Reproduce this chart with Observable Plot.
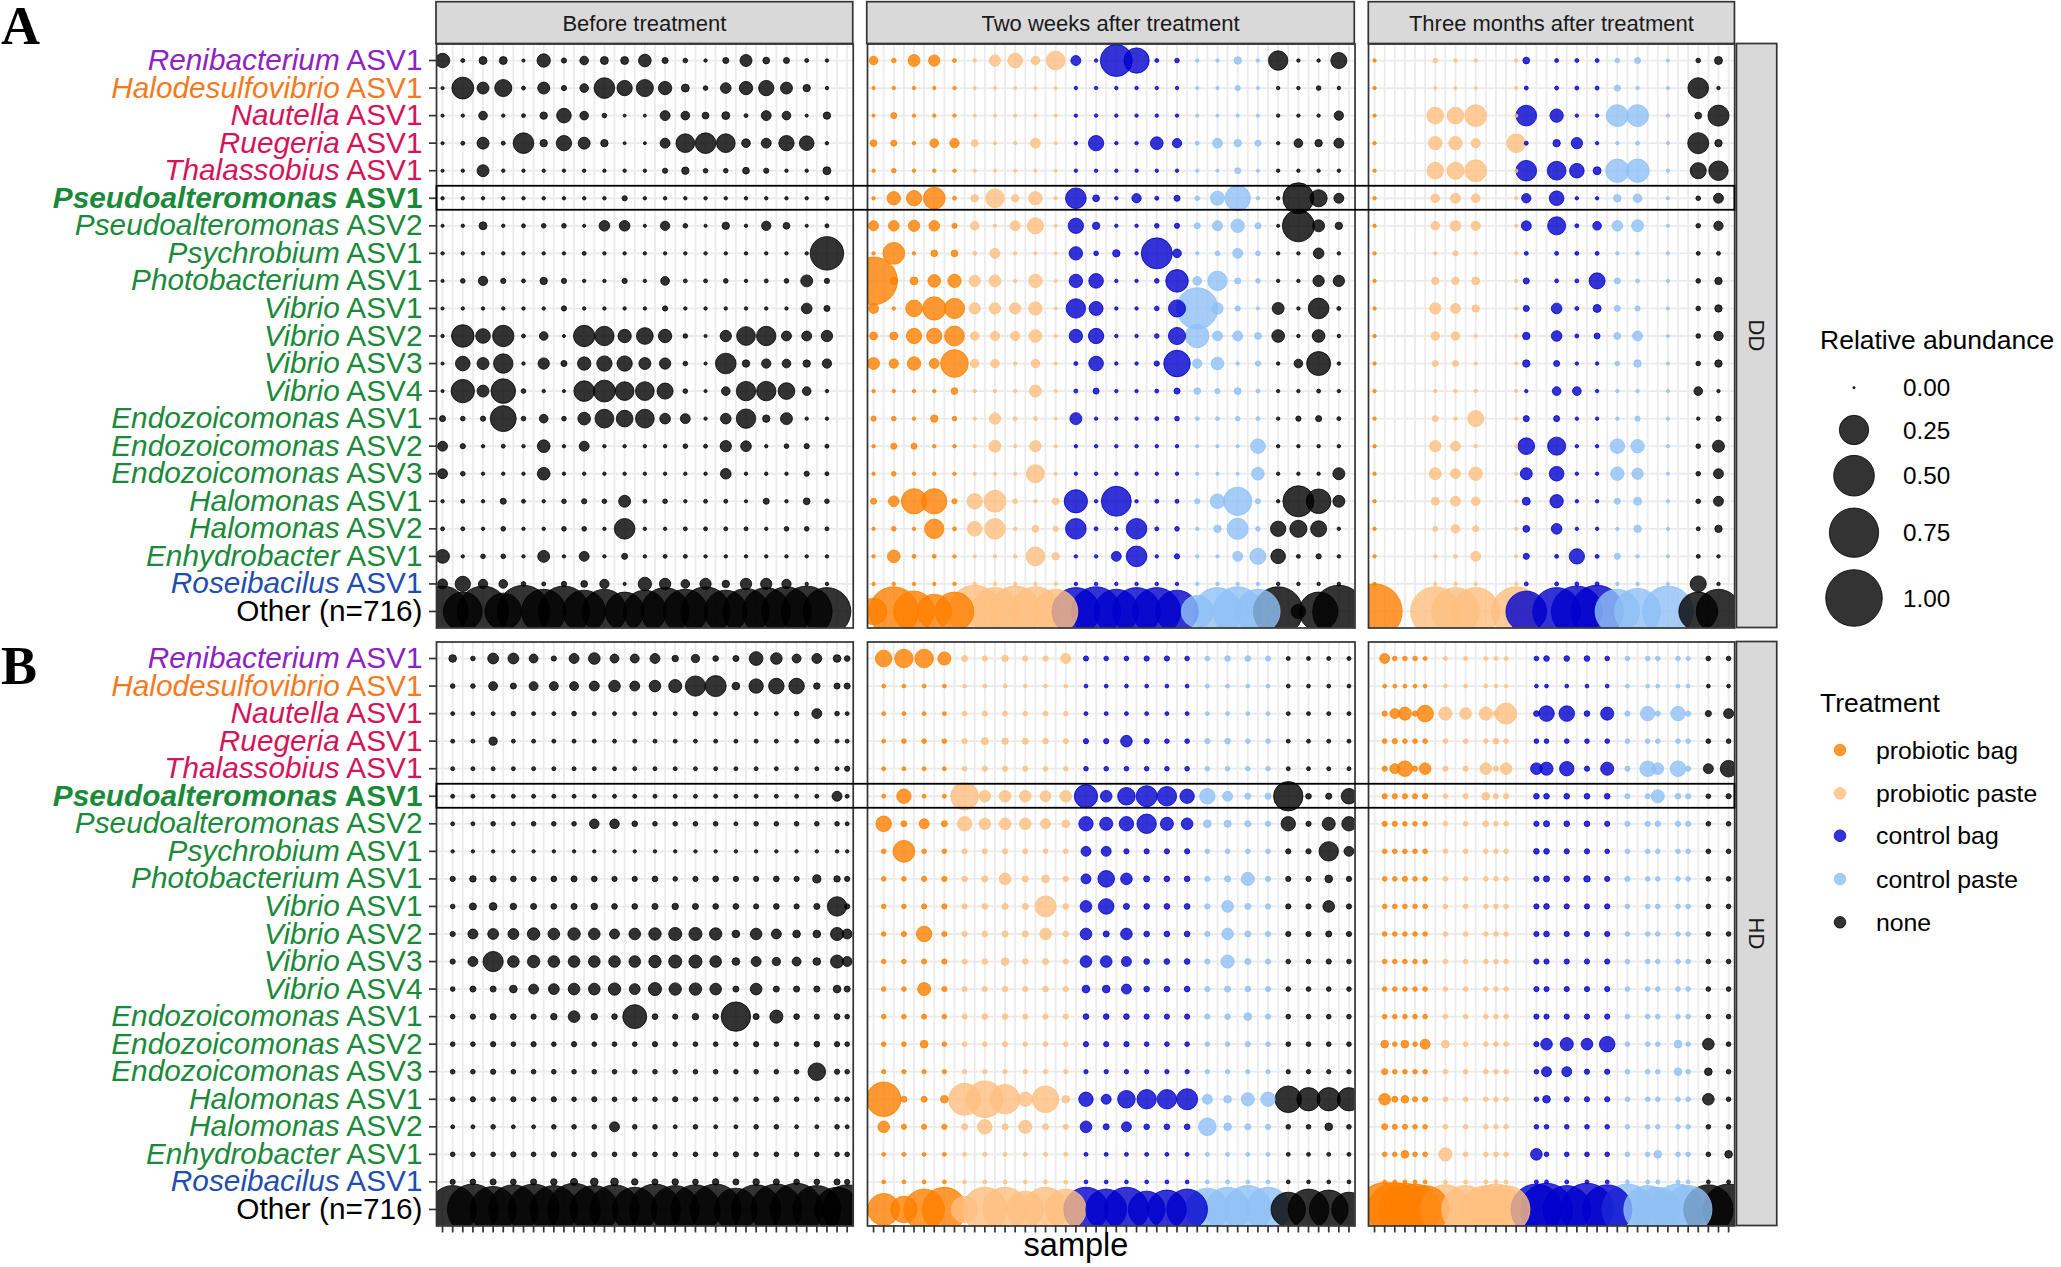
<!DOCTYPE html>
<html><head><meta charset="utf-8">
<script src="https://cdn.jsdelivr.net/npm/d3@7"></script>
<script src="https://cdn.jsdelivr.net/npm/@observablehq/plot@0.6"></script>
<style>
body{margin:0;background:#fff;}
#fig{position:relative;width:2061px;height:1267px;overflow:hidden;background:#fff;font-family:"Liberation Sans",Arial,sans-serif;}
#fig svg{position:absolute;top:0;}
</style></head><body><div id="fig"></div>
<script>
// ---------------- DATA ----------------
const taxa = ["Renibacterium ASV1","Halodesulfovibrio ASV1","Nautella ASV1","Ruegeria ASV1","Thalassobius ASV1",
"Pseudoalteromonas ASV1","Pseudoalteromonas ASV2","Psychrobium ASV1","Photobacterium ASV1","Vibrio ASV1",
"Vibrio ASV2","Vibrio ASV3","Vibrio ASV4","Endozoicomonas ASV1","Endozoicomonas ASV2","Endozoicomonas ASV3",
"Halomonas ASV1","Halomonas ASV2","Enhydrobacter ASV1","Roseibacilus ASV1","Other (n=716)"];
const taxonColors = ["#8E22C2","#F47A1F","#D4145A","#D4145A","#D4145A","#1A8A3A","#1A8A3A","#1A8A3A","#1A8A3A","#1A8A3A",
"#1A8A3A","#1A8A3A","#1A8A3A","#1A8A3A","#1A8A3A","#1A8A3A","#1A8A3A","#1A8A3A","#1A8A3A","#1F4DB0","#000000"];
const highlightTaxon = "Pseudoalteromonas ASV1";
const sites = ["DD","HD"];
const periods = ["Before treatment","Two weeks after treatment","Three months after treatment"];
const samplesPerPeriod = [41, 48, 36];
const treatOrder = ["probiotic bag","probiotic paste","control bag","control paste","none"];
const treatColors = ["#FF8000","#FFBF80","#0000CD","#8EC0F5","#000000"];
const treatCode = {PB:"probiotic bag", PP:"probiotic paste", CB:"control bag", CP:"control paste", N:"none"};
const sizeBreaks = [0, 0.25, 0.5, 0.75, 1];

// sample slots (x categories within each period) and treatments
const ddBeforeSlots = [0,2,4,6,8,10,12,14,16,18,20,22,24,26,28,30,32,34,36,38];
const hdBeforeSlots = [1,3,5,7,9,11,13,15,17,19,21,23,25,27,29,31,33,35,37,39,40];
const ddTwoSlots = [0,2,4,6,8,10,12,14,16,18,20,22,24,26,28,30,32,34,36,38,40,42,44,46];
const hdTwoSlots = [1,3,5,7,9,11,13,15,17,19,21,23,25,27,29,31,33,35,37,39,41,43,45,47];
const ddThreeSlots = [0,6,8,10,14,15,18,20,22,24,26,29,32,34];
const hdThreeSlots = [1,2,3,4,5,7,9,11,12,13,16,17,19,21,23,25,27,28,30,31,33,35];

const ddBeforeTreat = ["N","N","N","N","N","N","N","N","N","N","N","N","N","N","N","N","N","N","N","N"];
const hdBeforeTreat = ["N","N","N","N","N","N","N","N","N","N","N","N","N","N","N","N","N","N","N","N","N"];
const ddTwoTreat = ["PB","PB","PB","PB","PB","PP","PP","PP","PP","PP","CB","CB","CB","CB","CB","CB","CP","CP","CP","CP","N","N","N","N"];
const hdTwoTreat = ["PB","PB","PB","PB","PP","PP","PP","PP","PP","PP","CB","CB","CB","CB","CB","CB","CP","CP","CP","CP","N","N","N","N"];
const ddThreeTreat = ["PB","PP","PP","PP","PP","CB","CB","CB","CB","CP","CP","CP","N","N"];
const hdThreeTreat = ["PB","PB","PB","PB","PB","PP","PP","PP","PP","PP","CB","CB","CB","CB","CB","CP","CP","CP","CP","CP","N","N"];

// relative abundance, one row per taxon (same order as taxa)
const ddBefore = [
[0.05,0.001,0.011,0.011,0.0003,0.042,0.003,0.014,0.011,0.011,0.037,0.005,0.002,0.0005,0.005,0.032,0.007,0.005,0.001,0.0005],
[0.0003,0.13,0.032,0.075,0.001,0.032,0.003,0.014,0.115,0.058,0.075,0.042,0.011,0.002,0.024,0.042,0.058,0.032,0.009,0.0005],
[0.0003,0.0005,0.014,0.0005,0.001,0.009,0.052,0.014,0.002,0.0002,0.0002,0.02,0.014,0.007,0.011,0.001,0.02,0.014,0.0003,0.009],
[0.0003,0.001,0.032,0.001,0.115,0.009,0.058,0.032,0.009,0.0002,0.0002,0.02,0.092,0.115,0.092,0.014,0.02,0.058,0.052,0.0005],
[0.0003,0.0005,0.032,0.0005,0.0005,0.0005,0.0005,0.0005,0.0005,0.0005,0.0005,0.003,0.009,0.002,0.002,0.007,0.003,0.0005,0.0005,0.011],
[0.0005,0.0005,0.0005,0.0005,0.0005,0.0005,0.0005,0.0005,0.0005,0.003,0.0005,0.0005,0.0005,0.0005,0.0005,0.0005,0.0005,0.0005,0.0005,0.0008],
[0.0003,0.0005,0.011,0.0005,0.001,0.002,0.002,0.0003,0.024,0.024,0.0003,0.017,0.002,0.0003,0.009,0.0005,0.017,0.007,0.0003,0.001],
[0.0005,0.0005,0.0005,0.0005,0.0005,0.0005,0.0005,0.001,0.0005,0.0005,0.0005,0.0005,0.0005,0.0005,0.0005,0.0005,0.0005,0.0005,0.0005,0.33],
[0.0003,0.002,0.017,0.003,0.001,0.009,0.003,0.0005,0.0005,0.003,0.0005,0.014,0.001,0.001,0.002,0.0005,0.001,0.002,0.032,0.003],
[0.0003,0.0005,0.0005,0.0005,0.0005,0.0005,0.003,0.0005,0.0005,0.0005,0.0005,0.003,0.0005,0.0005,0.0005,0.0005,0.0005,0.0005,0.024,0.005],
[0.0005,0.14,0.052,0.123,0.001,0.014,0.0003,0.123,0.1,0.042,0.071,0.042,0.002,0.0003,0.028,0.092,0.1,0.02,0.02,0.028],
[0.0003,0.052,0.032,0.1,0.0005,0.028,0.005,0.042,0.058,0.058,0.032,0.028,0.002,0.0003,0.115,0.009,0.017,0.014,0.009,0.017],
[0.0003,0.151,0.032,0.17,0.002,0.0005,0.0003,0.115,0.13,0.092,0.092,0.065,0.002,0.0003,0.014,0.1,0.1,0.071,0.014,0.0005],
[0.005,0.002,0.003,0.19,0.002,0.014,0.002,0.037,0.092,0.071,0.092,0.024,0.02,0.0005,0.024,0.1,0.009,0.032,0.0005,0.0005],
[0.02,0.003,0.0005,0.001,0.0005,0.037,0.0005,0.02,0.0005,0.0005,0.0005,0.0005,0.002,0.001,0.028,0.024,0.0005,0.002,0.003,0.001],
[0.02,0.002,0.0005,0.0005,0.0005,0.037,0.0005,0.0005,0.0005,0.0005,0.0005,0.0005,0.0005,0.0005,0.024,0.0005,0.0005,0.0005,0.003,0.001],
[0.0005,0.001,0.0005,0.005,0.001,0.0005,0.002,0.003,0.002,0.032,0.001,0.002,0.0005,0.001,0.001,0.0003,0.005,0.0005,0.007,0.002],
[0.001,0.001,0.0005,0.002,0.0005,0.0005,0.002,0.002,0.0005,0.115,0.0005,0.0005,0.001,0.001,0.001,0.001,0.0005,0.002,0.002,0.001],
[0.045,0.0005,0.002,0.002,0.0005,0.032,0.0005,0.02,0.0005,0.005,0.0005,0.001,0.001,0.0005,0.0005,0.0005,0.0005,0.0005,0.0005,0.0005],
[0.02,0.058,0.017,0.014,0.002,0.001,0.003,0.007,0.017,0.0003,0.042,0.028,0.014,0.028,0.009,0.028,0.028,0.017,0.0005,0.0005],
[0.8,0.45,0.8,0.4,0.85,0.6,0.8,0.55,0.6,0.45,0.55,0.7,0.6,0.75,0.55,0.65,0.7,0.75,0.8,0.7]
];
const ddTwo = [
[0.014,0.002,0.032,0.028,0.001,0.0005,0.028,0.052,0.014,0.092,0.02,0.0005,0.30,0.18,0.001,0.002,0.0005,0.0005,0.009,0.0005,0.1,0.0005,0.0005,0.065],
[0.0005,0.0005,0.0005,0.0005,0.0005,0.0003,0.0003,0.0003,0.0003,0.0003,0.0005,0.0005,0.0005,0.0005,0.0005,0.0005,0.0003,0.0003,0.003,0.0003,0.0005,0.0005,0.002,0.0005],
[0.0003,0.005,0.0005,0.0005,0.0005,0.0003,0.0003,0.0003,0.0003,0.0003,0.0005,0.0005,0.0005,0.0005,0.0005,0.0005,0.0003,0.0003,0.0003,0.0003,0.0005,0.0005,0.0005,0.017],
[0.007,0.005,0.0005,0.014,0.017,0.007,0.0003,0.0003,0.02,0.0003,0.0005,0.058,0.0005,0.0005,0.037,0.017,0.001,0.02,0.009,0.005,0.0005,0.014,0.009,0.02],
[0.0005,0.002,0.0005,0.0005,0.0005,0.0003,0.0003,0.0003,0.0003,0.0003,0.0005,0.0005,0.0005,0.0005,0.0005,0.0005,0.0003,0.0003,0.005,0.0003,0.0005,0.0005,0.0005,0.0005],
[0.0005,0.042,0.058,0.13,0.001,0.009,0.092,0.009,0.042,0.0005,0.115,0.007,0.0005,0.017,0.001,0.005,0.002,0.047,0.18,0.0005,0.0005,0.28,0.075,0.02],
[0.02,0.024,0.028,0.024,0.003,0.014,0.0005,0.02,0.065,0.0003,0.058,0.009,0.0005,0.0005,0.002,0.003,0.005,0.02,0.042,0.005,0.0003,0.30,0.032,0.009],
[0.0005,0.13,0.0005,0.007,0.007,0.001,0.02,0.0005,0.0003,0.0003,0.042,0.002,0.009,0.0005,0.28,0.014,0.0005,0.002,0.02,0.002,0.0005,0.0005,0.024,0.0005],
[0.7,0.009,0.011,0.037,0.042,0.028,0.032,0.0005,0.042,0.0003,0.042,0.052,0.0005,0.0005,0.002,0.14,0.014,0.1,0.005,0.002,0.0005,0.0005,0.028,0.028],
[0.02,0.0005,0.071,0.15,0.11,0.028,0.028,0.028,0.042,0.0003,0.1,0.047,0.0005,0.0005,0.002,0.075,0.52,0.028,0.003,0.0003,0.032,0.0005,0.115,0.001],
[0.011,0.011,0.058,0.058,0.105,0.014,0.017,0.017,0.037,0.0003,0.042,0.058,0.0005,0.0005,0.002,0.075,0.15,0.02,0.02,0.007,0.037,0.0005,0.037,0.0005],
[0.032,0.017,0.042,0.02,0.22,0.014,0.014,0.0005,0.014,0.0003,0.001,0.052,0.0005,0.0005,0.003,0.2,0.017,0.037,0.0005,0.003,0.0005,0.014,0.16,0.0005],
[0.0005,0.0005,0.0005,0.0005,0.007,0.0005,0.0005,0.0005,0.032,0.0003,0.001,0.005,0.0005,0.0005,0.001,0.005,0.007,0.003,0.007,0.001,0.0005,0.0005,0.001,0.0005],
[0.003,0.002,0.0005,0.009,0.002,0.0005,0.028,0.001,0.001,0.0003,0.032,0.0005,0.0005,0.0005,0.001,0.002,0.001,0.001,0.002,0.001,0.0005,0.003,0.005,0.001],
[0.0005,0.005,0.005,0.0005,0.0005,0.0003,0.032,0.0003,0.028,0.0003,0.0005,0.0005,0.0005,0.0005,0.0005,0.0005,0.0003,0.0003,0.0003,0.052,0.0005,0.0005,0.0005,0.0005],
[0.0005,0.002,0.0005,0.0005,0.0005,0.0003,0.0003,0.0003,0.085,0.0003,0.0005,0.0005,0.0005,0.0005,0.0005,0.0005,0.0003,0.0003,0.0003,0.037,0.0005,0.0005,0.0005,0.032],
[0.005,0.024,0.18,0.18,0.003,0.058,0.13,0.002,0.0005,0.007,0.15,0.0005,0.26,0.0005,0.001,0.001,0.003,0.052,0.23,0.003,0.0005,0.28,0.17,0.032],
[0.0005,0.002,0.0005,0.1,0.001,0.052,0.115,0.0005,0.007,0.003,0.115,0.001,0.0005,0.115,0.001,0.002,0.0005,0.009,0.12,0.002,0.058,0.075,0.065,0.0005],
[0.0005,0.037,0.001,0.001,0.0005,0.0003,0.0005,0.0005,0.092,0.009,0.0005,0.0005,0.02,0.115,0.0005,0.003,0.0005,0.0005,0.02,0.065,0.052,0.001,0.003,0.0005],
[0.0005,0.0005,0.0005,0.0005,0.0005,0.0005,0.0005,0.0005,0.0005,0.0005,0.0005,0.0005,0.0005,0.0005,0.0005,0.0005,0.0005,0.0005,0.0005,0.0005,0.0005,0.0005,0.0005,0.0005],
[0.2,0.75,0.5,0.35,0.45,0.85,0.7,0.8,0.75,0.6,0.7,0.75,0.6,0.7,0.7,0.55,0.3,0.7,0.75,0.6,0.75,0.05,0.45,0.85]
];
const ddThree = [
[0.0005,0.002,0.0005,0.0005,0.0005,0.007,0.001,0.001,0.001,0.002,0.005,0.0003,0.002,0.011],
[0.0005,0.0003,0.0003,0.0003,0.0005,0.001,0.001,0.001,0.001,0.005,0.0005,0.0003,0.115,0.0005],
[0.0005,0.071,0.071,0.13,0.0005,0.115,0.042,0.0005,0.0005,0.13,0.13,0.0005,0.007,0.12],
[0.0005,0.042,0.042,0.017,0.092,0.001,0.009,0.028,0.0005,0.0005,0.001,0.0003,0.12,0.009],
[0.0005,0.071,0.075,0.13,0.0005,0.115,0.092,0.052,0.011,0.15,0.15,0.0005,0.065,0.1],
[0.0005,0.014,0.02,0.014,0.0003,0.017,0.052,0.0005,0.0005,0.009,0.014,0.0003,0.002,0.02],
[0.0005,0.014,0.024,0.017,0.0003,0.02,0.085,0.001,0.014,0.024,0.032,0.0003,0.002,0.017],
[0.0005,0.0005,0.003,0.0005,0.0003,0.001,0.001,0.001,0.001,0.0005,0.0005,0.0003,0.001,0.001],
[0.0005,0.009,0.009,0.011,0.0003,0.005,0.001,0.001,0.065,0.005,0.001,0.0003,0.002,0.009],
[0.0005,0.028,0.02,0.009,0.0003,0.005,0.024,0.001,0.011,0.005,0.003,0.0003,0.002,0.009],
[0.0005,0.014,0.014,0.0005,0.0003,0.009,0.024,0.001,0.005,0.007,0.02,0.0003,0.002,0.017],
[0.0005,0.005,0.005,0.0005,0.0003,0.009,0.005,0.0005,0.0005,0.002,0.009,0.0003,0.002,0.009],
[0.0005,0.0005,0.0005,0.0005,0.0003,0.0005,0.014,0.014,0.0005,0.0005,0.0005,0.0003,0.014,0.0005],
[0.0005,0.005,0.0005,0.065,0.0003,0.005,0.005,0.0005,0.0005,0.0005,0.003,0.0003,0.0005,0.003],
[0.0005,0.028,0.02,0.0005,0.0003,0.071,0.085,0.0005,0.0005,0.052,0.042,0.0003,0.002,0.032],
[0.0005,0.032,0.02,0.042,0.0003,0.032,0.052,0.0005,0.0005,0.042,0.028,0.0003,0.002,0.02],
[0.0005,0.011,0.02,0.014,0.0003,0.011,0.042,0.0005,0.0005,0.005,0.011,0.0003,0.002,0.02],
[0.0005,0.003,0.014,0.005,0.0003,0.007,0.024,0.0005,0.0005,0.0005,0.009,0.0003,0.001,0.009],
[0.0005,0.0005,0.001,0.02,0.0003,0.005,0.001,0.058,0.001,0.005,0.0005,0.0003,0.001,0.0005],
[0.0005,0.0005,0.0005,0.0005,0.0003,0.001,0.001,0.001,0.001,0.0005,0.0005,0.0003,0.065,0.0005],
[0.95,0.75,0.7,0.7,0.75,0.5,0.7,0.8,0.85,0.6,0.65,0.8,0.45,0.6]
];
const hdBefore = [
[0.01,0.002,0.025,0.025,0.015,0.003,0.02,0.03,0.015,0.015,0.02,0.006,0.012,0.004,0.005,0.045,0.03,0.015,0.02,0.01,0.004],
[0.002,0.002,0.015,0.005,0.015,0.015,0.015,0.02,0.03,0.02,0.03,0.04,0.11,0.12,0.01,0.05,0.06,0.06,0.006,0.005,0.005],
[0.001,0.001,0.001,0.002,0.001,0.001,0.002,0.001,0.001,0.001,0.001,0.001,0.002,0.001,0.001,0.001,0.001,0.002,0.02,0.002,0.001],
[0.001,0.001,0.012,0.001,0.001,0.001,0.001,0.001,0.001,0.001,0.001,0.001,0.001,0.001,0.001,0.001,0.001,0.001,0.002,0.001,0.001],
[0.001,0.001,0.001,0.001,0.001,0.001,0.001,0.001,0.001,0.001,0.001,0.001,0.001,0.001,0.001,0.001,0.001,0.001,0.001,0.001,0.003],
[0.001,0.001,0.001,0.001,0.001,0.001,0.001,0.001,0.001,0.001,0.001,0.001,0.001,0.001,0.001,0.001,0.001,0.001,0.001,0.02,0.001],
[0.001,0.001,0.002,0.001,0.002,0.002,0.002,0.018,0.018,0.004,0.002,0.002,0.002,0.002,0.001,0.002,0.002,0.002,0.002,0.002,0.001],
[0.0005,0.0005,0.0005,0.0005,0.0005,0.0005,0.0005,0.0005,0.0005,0.0005,0.0005,0.0005,0.0005,0.0005,0.0005,0.0005,0.0005,0.0005,0.0005,0.0005,0.0005],
[0.003,0.006,0.005,0.004,0.003,0.004,0.005,0.004,0.003,0.003,0.004,0.002,0.003,0.004,0.003,0.003,0.004,0.003,0.012,0.006,0.003],
[0.002,0.008,0.01,0.006,0.005,0.004,0.005,0.006,0.004,0.004,0.005,0.006,0.005,0.004,0.004,0.003,0.004,0.003,0.005,0.1,0.003],
[0.003,0.02,0.025,0.025,0.035,0.03,0.035,0.03,0.02,0.03,0.035,0.04,0.04,0.035,0.01,0.03,0.02,0.01,0.01,0.04,0.02],
[0.003,0.02,0.11,0.03,0.035,0.03,0.03,0.03,0.03,0.03,0.035,0.04,0.04,0.03,0.01,0.02,0.012,0.015,0.01,0.04,0.02],
[0.002,0.005,0.005,0.01,0.02,0.025,0.03,0.03,0.035,0.025,0.04,0.035,0.035,0.03,0.005,0.03,0.005,0.005,0.005,0.01,0.005],
[0.002,0.003,0.005,0.004,0.003,0.006,0.03,0.006,0.004,0.16,0.004,0.003,0.006,0.004,0.25,0.005,0.04,0.004,0.003,0.004,0.002],
[0.002,0.002,0.003,0.002,0.003,0.002,0.003,0.002,0.002,0.002,0.003,0.002,0.002,0.002,0.002,0.003,0.002,0.002,0.004,0.003,0.002],
[0.002,0.002,0.003,0.002,0.002,0.002,0.002,0.002,0.002,0.002,0.002,0.002,0.002,0.002,0.002,0.002,0.002,0.002,0.08,0.003,0.002],
[0.002,0.003,0.002,0.003,0.002,0.003,0.002,0.003,0.002,0.002,0.002,0.003,0.002,0.002,0.002,0.002,0.003,0.002,0.002,0.002,0.002],
[0.001,0.001,0.002,0.001,0.001,0.002,0.002,0.002,0.02,0.002,0.002,0.001,0.002,0.001,0.001,0.002,0.002,0.001,0.001,0.002,0.001],
[0.002,0.002,0.002,0.003,0.002,0.003,0.002,0.003,0.002,0.002,0.002,0.002,0.002,0.002,0.003,0.002,0.002,0.002,0.002,0.002,0.002],
[0.003,0.004,0.005,0.004,0.005,0.006,0.008,0.01,0.01,0.006,0.005,0.006,0.004,0.006,0.005,0.006,0.005,0.004,0.004,0.005,0.003],
[0.7,0.8,0.65,0.75,0.8,0.7,0.85,0.7,0.75,0.6,0.8,0.7,0.75,0.8,0.55,0.75,0.8,0.85,0.7,0.6,0.75]
];
const hdTwo = [
[0.07,0.09,0.09,0.04,0.005,0.003,0.006,0.003,0.003,0.02,0.003,0.002,0.002,0.003,0.003,0.002,0.002,0.004,0.004,0.003,0.001,0.001,0.001,0.001],
[0.0008,0.0008,0.0008,0.0008,0.0008,0.0008,0.0008,0.0008,0.0008,0.0008,0.0008,0.0008,0.0008,0.0008,0.0008,0.0008,0.0008,0.0008,0.0008,0.0008,0.0008,0.0008,0.0008,0.0008],
[0.001,0.001,0.001,0.001,0.002,0.003,0.002,0.002,0.002,0.002,0.001,0.001,0.001,0.001,0.001,0.001,0.001,0.001,0.001,0.001,0.001,0.001,0.001,0.001],
[0.001,0.002,0.002,0.002,0.003,0.008,0.006,0.005,0.004,0.003,0.003,0.003,0.03,0.003,0.002,0.002,0.003,0.004,0.002,0.002,0.001,0.001,0.001,0.001],
[0.001,0.001,0.001,0.001,0.002,0.003,0.003,0.003,0.002,0.002,0.002,0.002,0.002,0.002,0.002,0.002,0.002,0.002,0.002,0.002,0.001,0.001,0.001,0.001],
[0.001,0.05,0.001,0.001,0.22,0.03,0.03,0.03,0.025,0.03,0.15,0.03,0.08,0.12,0.1,0.05,0.06,0.02,0.005,0.005,0.25,0.004,0.005,0.06],
[0.06,0.005,0.02,0.005,0.05,0.03,0.03,0.03,0.02,0.01,0.05,0.04,0.05,0.1,0.04,0.03,0.01,0.008,0.005,0.003,0.05,0.003,0.04,0.05],
[0.002,0.13,0.002,0.002,0.003,0.003,0.003,0.003,0.002,0.002,0.02,0.02,0.003,0.003,0.003,0.003,0.002,0.002,0.002,0.002,0.003,0.003,0.1,0.02],
[0.002,0.002,0.003,0.003,0.004,0.005,0.03,0.005,0.01,0.003,0.02,0.07,0.03,0.005,0.004,0.004,0.003,0.005,0.04,0.003,0.003,0.003,0.01,0.003],
[0.002,0.002,0.003,0.003,0.003,0.004,0.005,0.005,0.12,0.004,0.03,0.06,0.005,0.004,0.004,0.004,0.003,0.03,0.005,0.003,0.003,0.003,0.03,0.003],
[0.002,0.003,0.06,0.003,0.003,0.004,0.005,0.005,0.03,0.004,0.03,0.005,0.03,0.004,0.004,0.004,0.003,0.03,0.005,0.003,0.003,0.003,0.005,0.003],
[0.002,0.002,0.003,0.003,0.003,0.004,0.01,0.004,0.005,0.003,0.03,0.03,0.02,0.004,0.004,0.004,0.003,0.04,0.005,0.003,0.002,0.002,0.003,0.002],
[0.002,0.002,0.04,0.003,0.003,0.003,0.004,0.003,0.004,0.003,0.01,0.01,0.02,0.004,0.004,0.004,0.003,0.005,0.004,0.003,0.002,0.002,0.002,0.002],
[0.002,0.002,0.003,0.002,0.003,0.004,0.004,0.003,0.003,0.003,0.004,0.004,0.004,0.003,0.003,0.003,0.003,0.004,0.01,0.003,0.002,0.002,0.002,0.002],
[0.002,0.002,0.01,0.002,0.002,0.002,0.003,0.002,0.002,0.002,0.003,0.003,0.003,0.002,0.002,0.002,0.002,0.002,0.003,0.002,0.002,0.002,0.002,0.002],
[0.0015,0.0015,0.0015,0.0015,0.0015,0.0015,0.0015,0.0015,0.0015,0.0015,0.0015,0.0015,0.0015,0.0015,0.0015,0.0015,0.0015,0.0015,0.0015,0.0015,0.0015,0.0015,0.0015,0.0015],
[0.35,0.005,0.005,0.01,0.3,0.4,0.25,0.05,0.2,0.01,0.05,0.02,0.08,0.1,0.1,0.12,0.02,0.01,0.04,0.05,0.2,0.15,0.15,0.15],
[0.03,0.003,0.003,0.003,0.005,0.05,0.005,0.04,0.005,0.003,0.03,0.005,0.02,0.004,0.004,0.004,0.08,0.01,0.005,0.003,0.002,0.002,0.01,0.002],
[0.001,0.001,0.001,0.001,0.001,0.001,0.001,0.001,0.001,0.001,0.001,0.001,0.001,0.001,0.001,0.001,0.001,0.001,0.001,0.001,0.001,0.001,0.001,0.001],
[0.0008,0.0008,0.0008,0.0008,0.0008,0.0008,0.0008,0.0008,0.0008,0.0008,0.0008,0.0008,0.0008,0.0008,0.0008,0.0008,0.0008,0.0008,0.0008,0.0008,0.0008,0.0008,0.0008,0.0008],
[0.3,0.2,0.5,0.6,0.2,0.6,0.6,0.4,0.6,0.5,0.6,0.5,0.6,0.4,0.45,0.5,0.55,0.6,0.7,0.6,0.35,0.5,0.45,0.35]
];
const hdThree = [
[0.02,0.002,0.002,0.002,0.001,0.001,0.001,0.001,0.001,0.001,0.002,0.004,0.004,0.004,0.002,0.002,0.002,0.002,0.002,0.001,0.002,0.002],
[0.0008,0.0008,0.0008,0.0008,0.0008,0.0008,0.0008,0.0008,0.0008,0.0008,0.0008,0.0008,0.0008,0.0008,0.0008,0.0008,0.0008,0.0008,0.0008,0.0008,0.0008,0.0008],
[0.003,0.02,0.04,0.003,0.07,0.04,0.03,0.04,0.004,0.12,0.004,0.06,0.06,0.004,0.04,0.003,0.05,0.003,0.05,0.003,0.005,0.02],
[0.002,0.003,0.002,0.002,0.002,0.002,0.002,0.002,0.004,0.002,0.002,0.002,0.002,0.002,0.002,0.002,0.002,0.002,0.002,0.002,0.002,0.002],
[0.003,0.02,0.06,0.003,0.03,0.003,0.003,0.03,0.003,0.03,0.03,0.04,0.05,0.003,0.04,0.003,0.06,0.03,0.06,0.003,0.02,0.07],
[0.003,0.003,0.003,0.003,0.003,0.002,0.003,0.01,0.003,0.003,0.004,0.004,0.004,0.004,0.004,0.003,0.003,0.04,0.004,0.003,0.002,0.003],
[0.003,0.003,0.002,0.002,0.002,0.002,0.002,0.004,0.002,0.002,0.003,0.005,0.004,0.004,0.003,0.003,0.003,0.004,0.003,0.003,0.002,0.002],
[0.002,0.002,0.002,0.002,0.002,0.002,0.002,0.002,0.002,0.002,0.004,0.004,0.003,0.003,0.002,0.002,0.002,0.002,0.002,0.002,0.002,0.002],
[0.002,0.002,0.003,0.002,0.002,0.002,0.002,0.002,0.002,0.002,0.003,0.005,0.004,0.006,0.003,0.003,0.002,0.002,0.002,0.002,0.002,0.002],
[0.002,0.002,0.002,0.002,0.002,0.002,0.002,0.002,0.002,0.002,0.003,0.004,0.003,0.003,0.003,0.002,0.002,0.002,0.002,0.002,0.002,0.002],
[0.002,0.002,0.002,0.002,0.002,0.002,0.002,0.002,0.002,0.002,0.003,0.004,0.003,0.003,0.003,0.002,0.002,0.002,0.002,0.002,0.002,0.002],
[0.002,0.002,0.002,0.002,0.002,0.002,0.002,0.002,0.002,0.002,0.003,0.003,0.003,0.003,0.003,0.002,0.002,0.002,0.002,0.002,0.002,0.002],
[0.002,0.002,0.002,0.002,0.002,0.002,0.002,0.002,0.002,0.002,0.003,0.003,0.003,0.003,0.003,0.002,0.002,0.002,0.002,0.002,0.002,0.002],
[0.002,0.002,0.002,0.002,0.002,0.002,0.002,0.002,0.002,0.002,0.003,0.003,0.003,0.003,0.003,0.002,0.002,0.002,0.002,0.002,0.002,0.002],
[0.01,0.002,0.01,0.002,0.02,0.01,0.002,0.002,0.002,0.002,0.003,0.03,0.04,0.03,0.06,0.002,0.002,0.002,0.01,0.002,0.03,0.002],
[0.005,0.002,0.002,0.002,0.002,0.002,0.002,0.002,0.002,0.002,0.002,0.02,0.02,0.003,0.003,0.002,0.002,0.002,0.01,0.002,0.01,0.002],
[0.03,0.005,0.01,0.003,0.003,0.002,0.002,0.002,0.002,0.002,0.002,0.01,0.003,0.003,0.003,0.002,0.002,0.002,0.002,0.002,0.03,0.002],
[0.005,0.003,0.003,0.002,0.002,0.002,0.002,0.002,0.002,0.002,0.002,0.002,0.002,0.002,0.002,0.002,0.002,0.002,0.002,0.002,0.002,0.002],
[0.002,0.002,0.01,0.002,0.002,0.04,0.002,0.002,0.002,0.002,0.03,0.002,0.002,0.002,0.002,0.002,0.002,0.01,0.002,0.002,0.002,0.01],
[0.001,0.001,0.001,0.001,0.001,0.001,0.001,0.001,0.001,0.001,0.001,0.001,0.001,0.001,0.001,0.001,0.001,0.001,0.001,0.001,0.001,0.001],
[0.9,0.9,0.85,0.8,0.7,0.75,0.7,0.7,0.8,0.7,0.8,0.85,0.7,0.85,0.75,0.8,0.7,0.6,0.8,0.7,0.75,0.8]
];

const panels = [
  [{site:"DD", slots:ddBeforeSlots, treat:ddBeforeTreat, values:ddBefore},{site:"HD", slots:hdBeforeSlots, treat:hdBeforeTreat, values:hdBefore}],
  [{site:"DD", slots:ddTwoSlots, treat:ddTwoTreat, values:ddTwo},{site:"HD", slots:hdTwoSlots, treat:hdTwoTreat, values:hdTwo}],
  [{site:"DD", slots:ddThreeSlots, treat:ddThreeTreat, values:ddThree},{site:"HD", slots:hdThreeSlots, treat:hdThreeTreat, values:hdThree}]
];

// ---------------- LAYOUT ----------------
const FONT = '"Liberation Sans", Arial, Helvetica, sans-serif';
const FIGW = 2061, FIGH = 1267;
const step = 10.115, gap = 14, panelTop = 43.5, panelH = 584;
const plotBottom = panelTop + 2 * panelH + gap;
const colW = samplesPerPeriod.map(n => (n + 0.2) * step);
const colLeft = [436];
colLeft[1] = colLeft[0] + colW[0] + gap;
colLeft[2] = colLeft[1] + colW[1] + gap;
const plotsRight = colLeft[2] + colW[2];
const stepY = panelH / (taxa.length + 0.2);

function rowsFor(p) {
  const out = [];
  p.values.forEach((row, i) => {
    row.forEach((v, k) => {
      if (k < p.slots.length && v != null)
        out.push({site: p.site, slot: p.slots[k], taxon: taxa[i], value: v, treat: treatCode[p.treat[k]]});
    });
  });
  return out;
}

const fig = document.getElementById("fig");
const plots = [];
for (let j = 0; j < 3; j++) {
  const n = samplesPerPeriod[j];
  const mL = j === 0 ? colLeft[0] : 3, mR = 3;
  const data = panels[j].flatMap(rowsFor);
  const marks = [
    Plot.ruleY(taxa, {y: d => d, stroke: "#EBEBEB", strokeWidth: 1.8}),
    Plot.ruleX(d3.range(n), {x: d => d, stroke: "#EBEBEB", strokeWidth: 1.8}),
    Plot.dot(data, {x: "slot", y: "taxon", fy: "site", r: "value",
      fill: {value: "treat", scale: "color"}, stroke: {value: "treat", scale: "color"},
      fillOpacity: 0.8, strokeOpacity: 0.8, strokeWidth: 1, clip: true}),
    Plot.frame({stroke: "#333333", strokeWidth: 1.7}),
    Plot.axisX({ticks: d3.range(n), tickFormat: () => "", tickSize: 7, tickPadding: 0, stroke: "#333333", strokeWidth: 1.7, label: null})
  ];
  if (j === 0) marks.push(Plot.axisY({tickSize: 7, tickPadding: 7, fontSize: 29.8, stroke: "#333333", strokeWidth: 1.7, fill: "#000", label: null}));
  const plot = Plot.plot({
    width: mL + colW[j] + mR, height: FIGH,
    marginLeft: mL, marginRight: mR, marginTop: panelTop, marginBottom: FIGH - plotBottom,
    style: {fontFamily: FONT, overflow: "visible", background: "transparent", maxWidth: "none"},
    x: {type: "point", domain: d3.range(n), padding: 0.6, align: 0.5, round: false},
    y: {type: "point", domain: taxa, padding: 0.6, align: 0.5, round: false, axis: null},
    fy: {domain: sites, paddingInner: gap / (panelH + gap), paddingOuter: 0, align: 0.5, round: false, axis: null},
    r: {type: "sqrt", domain: [0, 1], range: [1.1, 28.3]},
    color: {type: "ordinal", domain: treatOrder, range: treatColors},
    marks
  });
  plot.style.left = (colLeft[j] - mL) + "px";
  plot.style.position = "absolute";
  plot.style.top = "0px";
  fig.appendChild(plot);
  plots.push(plot);
}

// style y tick labels: italic genus, coloured, highlighted taxon bold
(function styleLabels() {
  const svg = plots[0];
  const texts = Array.from(svg.querySelectorAll("text")).filter(t => taxa.includes(t.textContent.trim()));
  texts.forEach(t => {
    const s = t.textContent.trim();
    const i = taxa.indexOf(s);
    t.setAttribute("fill", taxonColors[i]);
    t.style.whiteSpace = "pre";
    if (s.startsWith("Other")) return;
    const sp = s.indexOf(" ");
    const genus = s.slice(0, sp), rest = s.slice(sp);
    while (t.firstChild) t.removeChild(t.firstChild);
    const ns = "http://www.w3.org/2000/svg";
    const a = document.createElementNS(ns, "tspan"); a.setAttribute("font-style", "italic"); a.textContent = genus;
    const b = document.createElementNS(ns, "tspan"); b.textContent = rest;
    t.appendChild(a); t.appendChild(b);
    if (s === highlightTaxon) t.setAttribute("font-weight", "bold");
  });
})();

// ---------------- ANNOTATION OVERLAY ----------------
const rScale = plots[0].scale("r");
const cScale = plots[0].scale("color");
const ov = d3.select(fig).append("svg").attr("width", FIGW).attr("height", FIGH)
  .style("left", "0px").style("top", "0px").style("pointer-events", "none")
  .attr("font-family", FONT);

// panel letters
ov.append("text").attr("x", 1).attr("y", 44).attr("font-family", '"Liberation Serif", "Times New Roman", serif')
  .attr("font-weight", "bold").attr("font-size", 54).text("A");
ov.append("text").attr("x", 1).attr("y", 684).attr("font-family", '"Liberation Serif", "Times New Roman", serif')
  .attr("font-weight", "bold").attr("font-size", 54).text("B");

// top strips
periods.forEach((p, j) => {
  ov.append("rect").attr("x", colLeft[j]).attr("y", 1.7).attr("width", colW[j]).attr("height", panelTop - 1.7)
    .attr("fill", "#D9D9D9").attr("stroke", "#333333").attr("stroke-width", 1.7);
  ov.append("text").attr("x", colLeft[j] + colW[j] / 2).attr("y", 30.5).attr("text-anchor", "middle")
    .attr("font-size", 22).attr("fill", "#1A1A1A").text(p);
});
// right strips + highlight box
sites.forEach((s, i) => {
  const top = panelTop + i * (panelH + gap);
  const x0 = plotsRight + 2;
  ov.append("rect").attr("x", x0).attr("y", top).attr("width", 40.3).attr("height", panelH)
    .attr("fill", "#D9D9D9").attr("stroke", "#333333").attr("stroke-width", 1.7);
  ov.append("text").attr("transform", `translate(${x0 + 20.15},${top + panelH / 2}) rotate(90)`)
    .attr("text-anchor", "middle").attr("dominant-baseline", "central")
    .attr("font-size", 22).attr("fill", "#1A1A1A").text(s);
  const yc = top + stepY * (0.6 + taxa.indexOf(highlightTaxon));
  ov.append("rect").attr("x", colLeft[0] + 0.5).attr("y", yc - 12).attr("width", plotsRight - colLeft[0] - 0.5).attr("height", 24)
    .attr("fill", "none").attr("stroke", "#000").attr("stroke-width", 1.8);
});

// x axis title
ov.append("text").attr("x", 1076).attr("y", 1256).attr("text-anchor", "middle").attr("font-size", 32.5).attr("fill", "#000").text("sample");

// size legend
ov.append("text").attr("x", 1820).attr("y", 349).attr("font-size", 26.5).attr("fill", "#000").text("Relative abundance");
const sizeY = [387.7, 430, 475.7, 532.7, 598];
sizeBreaks.forEach((v, i) => {
  ov.append("circle").attr("cx", 1854).attr("cy", sizeY[i]).attr("r", rScale.apply(v))
    .attr("fill", "#000").attr("fill-opacity", 0.8).attr("stroke", "#000").attr("stroke-opacity", 0.8).attr("stroke-width", 1);
  ov.append("text").attr("x", 1903).attr("y", sizeY[i]).attr("dominant-baseline", "central")
    .attr("font-size", 24.3).attr("fill", "#000").text(v.toFixed(2));
});
// treatment legend
ov.append("text").attr("x", 1820).attr("y", 711.7).attr("font-size", 26.5).attr("fill", "#000").text("Treatment");
const treatY = [750, 793.3, 835.7, 879, 922.3];
treatOrder.forEach((t, i) => {
  ov.append("circle").attr("cx", 1840).attr("cy", treatY[i]).attr("r", 5.8)
    .attr("fill", cScale.apply(t)).attr("fill-opacity", 0.8).attr("stroke", cScale.apply(t)).attr("stroke-opacity", 0.8);
  ov.append("text").attr("x", 1876).attr("y", treatY[i]).attr("dominant-baseline", "central")
    .attr("font-size", 24.8).attr("fill", "#000").text(t);
});
</script></body></html>
